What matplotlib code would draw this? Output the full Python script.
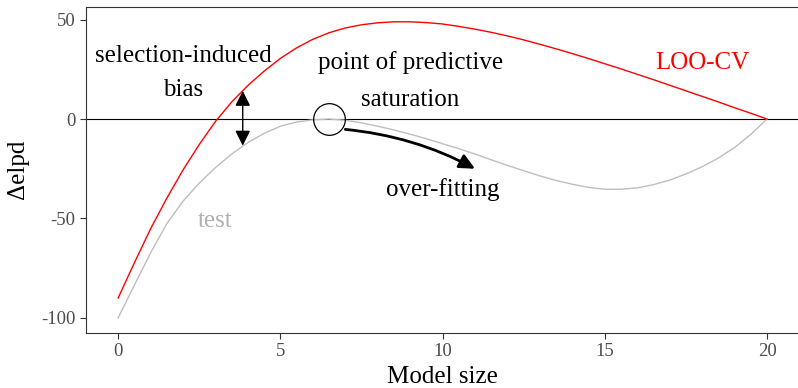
import matplotlib
matplotlib.use("Agg")
import matplotlib.pyplot as plt

# Model size grid (half steps)
model_size = [0, 0.5, 1, 1.5, 2, 2.5, 3, 3.5, 4, 4.5, 5, 5.5, 6, 6.5, 7, 7.5, 8,
              8.5, 9, 9.5, 10, 10.5, 11, 11.5, 12, 12.5, 13, 13.5, 14, 14.5,
              15, 15.5, 16, 16.5, 17, 17.5, 18, 18.5, 19, 19.5, 20]

# Δelpd estimated by leave-one-out cross-validation
loo_cv = [-90.0, -72.3, -55.2, -39.8, -25.6, -12.8, -1.2, 8.6, 16.9, 24.1,
          30.5, 35.8, 40.1, 43.4, 45.8, 47.4, 48.4, 48.9, 48.9, 48.5, 47.8,
          46.6, 45.2, 43.6, 41.8, 39.8, 37.6, 35.3, 32.9, 30.4, 27.8, 25.2,
          22.5, 19.8, 17.0, 14.2, 11.4, 8.6, 5.7, 2.9, 0.0]

# Δelpd on independent test data
test = [-100.0, -83.5, -67.3, -52.6, -41.3, -32.2, -24.4, -17.6, -11.8, -7.2,
        -3.6, -1.5, -0.4, 0.0, -0.6, -1.9, -3.6, -5.5, -7.6, -9.9, -12.4,
        -14.9, -17.6, -20.5, -23.3, -26.0, -28.6, -30.9, -32.8, -34.4, -35.3,
        -35.3, -34.6, -33.0, -30.7, -27.6, -24.0, -19.6, -14.3, -7.7, 0.0]

x_ticks = [0, 5, 10, 15, 20]
y_ticks = [-100, -50, 0, 50]

# Annotation anchors (data coordinates)
bias_x, bias_top, bias_bottom = 3.84, 14.2, -13.4
saturation_point = (6.5, 0.0)
overfit_start = (7.0, -5.2)
overfit_end = (11.0, -25.0)

plt.rcParams["font.family"] = ["Liberation Serif", "DejaVu Serif"]

W, H = 798, 388
fig = plt.figure(figsize=(W / 100, H / 100), dpi=100)
left_px, right_px, top_px, bottom_px = 85.7, 799.5, 6.7, 332.7
ax = fig.add_axes([left_px / W, (H - bottom_px) / H,
                   (right_px - left_px) / W, (bottom_px - top_px) / H])

ax.set_xlim(-1, 21)
ax.set_ylim(-107.45, 56.5)

ax.axhline(0, color="black", lw=0.8, zorder=1)
ax.plot(model_size, test, color="#bebebe", lw=1.0, zorder=2)
ax.plot(model_size, loo_cv, color="#ff0000", lw=1.0, zorder=3)

# Curve labels
ax.text(18.0, 25.0, "LOO-CV", color="#ff0000", fontsize=18,
        ha="center", va="baseline")
ax.text(3.0, -54.5, "test", color="#b0b0b0", fontsize=18,
        ha="center", va="baseline")

# Selection-induced bias
ax.text(2.0, 28.8, "selection-induced", fontsize=18, ha="center", va="baseline")
ax.text(2.0, 11.6, "bias", fontsize=18, ha="center", va="baseline")
ax.annotate("", xy=(bias_x, bias_top), xytext=(bias_x, bias_bottom),
            arrowprops=dict(arrowstyle="<|-|>,head_length=0.46,head_width=0.23",
                            mutation_scale=20, lw=1.0, color="black",
                            shrinkA=0, shrinkB=0))

# Point of predictive saturation
ax.text(9.0, 25.2, "point of predictive", fontsize=18, ha="center", va="baseline")
ax.text(9.0, 6.5, "saturation", fontsize=18, ha="center", va="baseline")
ax.plot([saturation_point[0]], [saturation_point[1]], marker="o",
        markersize=22.8, markerfacecolor="none", markeredgecolor="black",
        markeredgewidth=0.9, zorder=4)

# Over-fitting
ax.annotate("", xy=overfit_end, xytext=overfit_start,
            arrowprops=dict(arrowstyle="-|>,head_length=0.46,head_width=0.22",
                            mutation_scale=20, lw=2.0, color="black",
                            shrinkA=0, shrinkB=0,
                            connectionstyle="arc3,rad=-0.1"))
ax.text(10.0, -38.7, "over-fitting", fontsize=18, ha="center", va="baseline")

# Axes styling
for side in ["left", "bottom", "top", "right"]:
    ax.spines[side].set_color("#333333")
    ax.spines[side].set_linewidth(0.8)
ax.set_xticks(x_ticks)
ax.set_yticks(y_ticks)
ax.set_xticklabels([str(v) for v in x_ticks])
ax.set_yticklabels([str(v) for v in y_ticks])
ax.tick_params(direction="out", length=4.6, width=0.8, color="#333333",
               labelcolor="#4d4d4d", labelsize=13.5, pad=3)

fig.text(((left_px + right_px) / 2) / W, 5.0 / H, "Model size",
         fontsize=18, ha="center", va="baseline")
fig.text(18.5 / W, 1 - ((top_px + bottom_px) / 2) / H, "\u0394elpd",
         fontsize=18, ha="center", va="center", rotation=90)

fig.savefig("out.png", dpi=100)
